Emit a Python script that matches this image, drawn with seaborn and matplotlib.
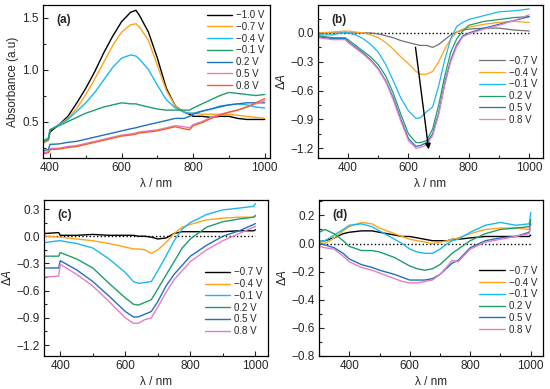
import matplotlib
matplotlib.use('Agg')
import matplotlib.pyplot as plt
from matplotlib.ticker import MultipleLocator, AutoMinorLocator
import pandas as pd
import seaborn as sns

# ---- panel (a): absorbance spectra ----
wl_a = [382, 395, 400, 425, 450, 475, 500, 525, 550, 575, 600, 625, 640, 650, 675,
        700, 725, 750, 775, 790, 800, 825, 850, 875, 900, 925, 950, 975, 1000]
abs_m10 = [0.30, 0.32, 0.40, 0.47, 0.55, 0.68, 0.82, 0.98, 1.16, 1.32, 1.46, 1.55, 1.57, 1.52, 1.36,
           1.11, 0.82, 0.65, 0.59, 0.57, 0.55, 0.55, 0.54, 0.55, 0.55, 0.53, 0.52, 0.52, 0.52]
abs_m07 = [0.30, 0.32, 0.42, 0.47, 0.53, 0.63, 0.76, 0.91, 1.07, 1.23, 1.36, 1.43, 1.44, 1.41, 1.28,
           1.04, 0.80, 0.65, 0.59, 0.58, 0.58, 0.57, 0.57, 0.57, 0.57, 0.56, 0.55, 0.54, 0.53]
abs_m04 = [0.32, 0.34, 0.42, 0.47, 0.52, 0.60, 0.68, 0.78, 0.90, 1.02, 1.11, 1.14, 1.13, 1.10, 1.00,
           0.85, 0.71, 0.63, 0.59, 0.58, 0.58, 0.60, 0.62, 0.65, 0.66, 0.67, 0.66, 0.64, 0.63]
abs_m01 = [0.31, 0.33, 0.42, 0.46, 0.50, 0.54, 0.58, 0.61, 0.64, 0.66, 0.68, 0.67, 0.67, 0.66, 0.64,
           0.62, 0.61, 0.61, 0.61, 0.61, 0.63, 0.67, 0.71, 0.75, 0.78, 0.77, 0.76, 0.75, 0.76]
abs_p02 = [0.22, 0.23, 0.28, 0.285, 0.30, 0.31, 0.33, 0.35, 0.37, 0.39, 0.41, 0.43, 0.44, 0.45, 0.47,
           0.49, 0.51, 0.53, 0.53, 0.55, 0.57, 0.60, 0.62, 0.64, 0.66, 0.67, 0.68, 0.68, 0.68]
abs_p05 = [0.20, 0.21, 0.24, 0.245, 0.26, 0.27, 0.29, 0.31, 0.33, 0.35, 0.37, 0.38, 0.39, 0.40, 0.41,
           0.42, 0.44, 0.46, 0.45, 0.44, 0.47, 0.50, 0.54, 0.57, 0.59, 0.61, 0.64, 0.67, 0.70]
abs_p08 = [0.19, 0.20, 0.23, 0.235, 0.25, 0.26, 0.28, 0.30, 0.32, 0.34, 0.36, 0.37, 0.38, 0.39, 0.40,
           0.41, 0.43, 0.45, 0.43, 0.42, 0.46, 0.49, 0.53, 0.56, 0.59, 0.61, 0.64, 0.68, 0.72]

# ---- panel (b) ----
wl_b = [300, 350, 390, 400, 425, 450, 475, 500, 525, 550, 575, 600, 625, 640, 660, 680,
        700, 720, 740, 760, 780, 800, 850, 900, 950, 1000]
b_m07 = [0.00, 0.00, 0.00, 0.00, 0.00, 0.00, 0.00, -0.01, -0.03, -0.05, -0.08, -0.10, -0.12, -0.13, -0.13, -0.15,
         -0.12, -0.07, -0.02, 0.01, 0.03, 0.04, 0.05, 0.05, 0.03, 0.02]
b_m04 = [0.00, 0.01, 0.02, 0.02, 0.01, 0.00, -0.02, -0.05, -0.10, -0.17, -0.25, -0.32, -0.40, -0.43, -0.43, -0.40,
         -0.30, -0.17, -0.06, 0.01, 0.04, 0.06, 0.09, 0.11, 0.12, 0.11]
b_m01 = [-0.02, -0.02, 0.01, 0.00, -0.02, -0.06, -0.12, -0.20, -0.33, -0.50, -0.68, -0.81, -0.89, -0.88, -0.82, -0.77,
         -0.55, -0.28, -0.06, 0.07, 0.11, 0.14, 0.18, 0.22, 0.23, 0.25]
b_p02 = [-0.03, -0.05, -0.05, -0.07, -0.13, -0.19, -0.25, -0.33, -0.45, -0.63, -0.85, -1.05, -1.14, -1.14, -1.12, -1.00,
         -0.75, -0.45, -0.20, -0.06, 0.02, 0.08, 0.12, 0.14, 0.16, 0.17]
b_p05 = [-0.04, -0.06, -0.06, -0.09, -0.15, -0.21, -0.28, -0.37, -0.50, -0.68, -0.90, -1.10, -1.18, -1.17, -1.14, -1.05,
         -0.83, -0.52, -0.28, -0.12, -0.03, 0.00, 0.05, 0.09, 0.13, 0.17]
b_p08 = [-0.05, -0.07, -0.07, -0.10, -0.16, -0.22, -0.29, -0.38, -0.51, -0.70, -0.92, -1.12, -1.20, -1.19, -1.16, -1.07,
         -0.85, -0.54, -0.30, -0.14, -0.04, -0.01, 0.04, 0.08, 0.13, 0.19]

# ---- panel (c) ----
wl_c = [352, 395, 400, 450, 500, 550, 600, 625, 640, 660, 680, 700, 725, 750, 775, 800,
        850, 900, 950, 995, 1000]
c_m07 = [0.03, 0.04, 0.01, 0.01, 0.02, 0.01, 0.01, 0.01, 0.00, 0.00, -0.01, -0.03, -0.02, 0.03, 0.05, 0.05,
         0.05, 0.05, 0.06, 0.06, 0.07]
c_m04 = [0.00, -0.01, -0.01, -0.03, -0.05, -0.08, -0.12, -0.14, -0.14, -0.15, -0.19, -0.15, -0.07, 0.03, 0.10, 0.13,
         0.18, 0.20, 0.21, 0.21, 0.22]
c_m01 = [-0.07, -0.05, -0.05, -0.08, -0.13, -0.25, -0.40, -0.50, -0.52, -0.51, -0.50, -0.38, -0.22, -0.05, 0.08, 0.15,
         0.24, 0.29, 0.31, 0.33, 0.36]
c_p02 = [-0.22, -0.22, -0.18, -0.25, -0.35, -0.52, -0.68, -0.75, -0.76, -0.73, -0.70, -0.58, -0.43, -0.28, -0.13, -0.03,
         0.10, 0.16, 0.19, 0.21, 0.23]
c_p05 = [-0.35, -0.35, -0.27, -0.37, -0.50, -0.66, -0.83, -0.89, -0.89, -0.86, -0.83, -0.72, -0.55, -0.42, -0.32, -0.22,
         -0.10, 0.00, 0.06, 0.13, 0.14]
c_p08 = [-0.45, -0.44, -0.31, -0.42, -0.55, -0.72, -0.90, -0.96, -0.96, -0.92, -0.90, -0.78, -0.62, -0.48, -0.38, -0.28,
         -0.15, -0.05, 0.03, 0.10, 0.11]

# ---- panel (d) ----
wl_d = [300, 320, 350, 380, 400, 440, 475, 500, 550, 575, 600, 625, 650, 675, 700, 725,
        740, 760, 800, 850, 900, 950, 995, 1000]
d_m07 = [0.02, 0.02, 0.04, 0.07, 0.08, 0.09, 0.09, 0.08, 0.06, 0.05, 0.05, 0.04, 0.03, 0.02, 0.02, 0.02,
         0.03, 0.03, 0.04, 0.05, 0.05, 0.05, 0.05, 0.06]
d_m04 = [0.01, 0.00, 0.04, 0.09, 0.12, 0.15, 0.14, 0.11, 0.07, 0.05, 0.03, 0.02, 0.01, 0.00, 0.01, 0.02,
         0.03, 0.04, 0.07, 0.10, 0.11, 0.11, 0.10, 0.15]
d_m01 = [0.02, 0.02, 0.06, 0.10, 0.13, 0.14, 0.12, 0.09, 0.03, 0.00, -0.04, -0.06, -0.07, -0.07, -0.04, 0.00,
         0.02, 0.03, 0.08, 0.13, 0.15, 0.13, 0.14, 0.22]
d_p02 = [0.08, 0.10, 0.07, 0.02, -0.02, -0.05, -0.05, -0.06, -0.10, -0.13, -0.16, -0.18, -0.19, -0.18, -0.15, -0.10,
         -0.07, -0.04, 0.02, 0.07, 0.10, 0.11, 0.12, 0.17]
d_p05 = [0.00, -0.01, -0.03, -0.07, -0.11, -0.15, -0.17, -0.19, -0.22, -0.24, -0.26, -0.26, -0.26, -0.25, -0.22, -0.17,
         -0.14, -0.12, -0.03, 0.02, 0.04, 0.05, 0.08, 0.14]
d_p08 = [-0.02, -0.03, -0.04, -0.09, -0.13, -0.17, -0.19, -0.21, -0.25, -0.27, -0.28, -0.28, -0.27, -0.26, -0.22, -0.16,
         -0.12, -0.13, -0.04, 0.01, 0.03, 0.05, 0.07, 0.13]

labels_a = ['\u22121.0 V', '\u22120.7 V', '\u22120.4 V', '\u22120.1 V', '0.2 V', '0.5 V', '0.8 V']
colors_a = ['black', '#ffa31a', '#1ab8f0', '#1f9e6a', '#2270c0', '#e87dc4', '#f2602a']
labels_d = ['\u22120.7 V', '\u22120.4 V', '\u22120.1 V', '0.2 V', '0.5 V', '0.8 V']
colors_d = ['black', '#ffa31a', '#1ab8f0', '#1f9e6a', '#2270c0', '#e87dc4']

sns.set_style('ticks')
plt.rcParams['font.family'] = ['Liberation Sans', 'DejaVu Sans']
plt.rcParams['mathtext.fontset'] = 'custom'
plt.rcParams['mathtext.rm'] = 'Liberation Sans'
plt.rcParams['mathtext.it'] = 'Liberation Sans:italic'

fig = plt.figure(figsize=(5.5, 3.89), dpi=100)
ax_a = fig.add_axes([0.078, 0.594, 0.413, 0.393])
ax_b = fig.add_axes([0.578, 0.594, 0.409, 0.393])
ax_c = fig.add_axes([0.080, 0.085, 0.408, 0.401])
ax_d = fig.add_axes([0.580, 0.085, 0.407, 0.401])


def draw(ax, wl, series, labels, colors, lw=1.0):
    for ys, lab, col in zip(series, labels, colors):
        df = pd.DataFrame({'wl': wl, 'y': ys})
        sns.lineplot(data=df, x='wl', y='y', color=col, label=lab, lw=lw, ax=ax)


draw(ax_a, wl_a, [abs_m10, abs_m07, abs_m04, abs_m01, abs_p02, abs_p05, abs_p08], labels_a, colors_a)
colors_b = ['#707070'] + colors_d[1:]
draw(ax_b, wl_b, [b_m07, b_m04, b_m01, b_p02, b_p05, b_p08], labels_d, colors_b, lw=0.9)
draw(ax_c, wl_c, [c_m07, c_m04, c_m01, c_p02, c_p05, c_p08], labels_d, colors_d)
draw(ax_d, wl_d, [d_m07, d_m04, d_m01, d_p02, d_p05, d_p08], labels_d, colors_d)

# zero reference lines
for ax, x0 in [(ax_b, 300), (ax_c, 352), (ax_d, 300)]:
    ax.plot([x0, 1000], [0, 0], color='black', ls=':', lw=1.0, zorder=0)

ax_b.annotate('', xy=(668, -1.24), xytext=(622, -0.12),
              arrowprops=dict(arrowstyle='-|>', color='black', lw=1.0, mutation_scale=8))

ax_a.set(xlim=(380, 1015), ylim=(0.15, 1.62))
ax_b.set(xlim=(300, 1045), ylim=(-1.30, 0.29))
ax_c.set(xlim=(350, 1040), ylim=(-1.32, 0.40))
ax_d.set(xlim=(300, 1040), ylim=(-0.80, 0.31))

ax_a.yaxis.set_major_locator(MultipleLocator(0.5))
ax_b.yaxis.set_major_locator(MultipleLocator(0.3))
ax_c.yaxis.set_major_locator(MultipleLocator(0.3))
ax_d.yaxis.set_major_locator(MultipleLocator(0.2))

for ax, tag in zip([ax_a, ax_b, ax_c, ax_d], ['(a)', '(b)', '(c)', '(d)']):
    ax.xaxis.set_major_locator(MultipleLocator(200))
    ax.xaxis.set_minor_locator(AutoMinorLocator(2))
    ax.yaxis.set_minor_locator(AutoMinorLocator(2))
    ax.tick_params(which='both', direction='in', labelsize=8.5, pad=3)
    ax.tick_params(which='major', length=3.5, width=0.8)
    ax.tick_params(which='minor', length=2, width=0.8)
    for sp in ax.spines.values():
        sp.set_linewidth(0.9)
        sp.set_color('black')
    ax.set_xlabel('\u03bb / nm', fontsize=8.5, labelpad=3)
    ax.text(0.06, 0.94, tag, transform=ax.transAxes, fontsize=8.5, fontweight='bold', va='top')

ax_a.set_ylabel('Absorbance (a.u)', fontsize=8.5, labelpad=2)
for ax in [ax_b, ax_c, ax_d]:
    ax.set_ylabel(r'$\mathrm{\Delta}A$', fontsize=8.5, labelpad=2)

leg_kw = dict(frameon=False, fontsize=7, handlelength=2.6, labelspacing=0.18,
              handletextpad=0.4, borderaxespad=0.2)
ax_a.legend(loc='upper right', bbox_to_anchor=(1.0, 1.005), **leg_kw)
ax_b.legend(loc='lower right', bbox_to_anchor=(1.0, 0.18), **leg_kw)
ax_c.legend(loc='lower right', bbox_to_anchor=(1.0, 0.09), **leg_kw)
ax_d.legend(loc='lower right', bbox_to_anchor=(1.0, 0.10), **leg_kw)

fig.savefig('out.png', dpi=100)
